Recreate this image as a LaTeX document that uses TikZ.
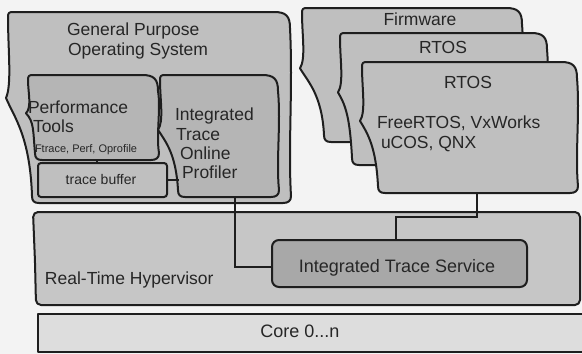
\documentclass[tikz,border=0pt]{standalone}
\usepackage{fontspec}
\setmainfont{Liberation Sans}
\definecolor{bg}{HTML}{F3F3F3}
\definecolor{ln}{HTML}{1E1E1E}
\definecolor{boxfill}{HTML}{BFBFBF}
\definecolor{innerfill}{HTML}{B5B5B5}
\definecolor{itsfill}{HTML}{A8A8A8}
\definecolor{hypfill}{HTML}{C6C6C6}
\definecolor{corefill}{HTML}{DDDDDD}
\tikzset{
  box/.style={draw=ln,line width=2pt,fill=boxfill,line join=round},
  conn/.style={draw=ln,line width=2pt},
  lbl/.style={inner sep=0pt,outer sep=0pt,text=black!85,font=\fontsize{17.5}{20}\selectfont},
}
\newcommand\docbox[6][]{%
\path[box,#1] ({#2+5},#3) -- ({#4-16},#3) .. controls ({#4-4},#3) and (#4,{#3+4}) .. (#4,{#3+16})
  .. controls ({#4+3},{#3+0.4*(#5-#3)}) and ({#4-2},{#3+0.7*(#5-#3)}) .. ({#4+1},{#5-7})
  .. controls ({#4+1},{#5-2}) and ({#4-2},#5) .. ({#4-7},#5)
  -- ({#2+#6+7},#5) .. controls ({#2+#6+2},#5) and ({#2+#6},{#5-2}) .. ({#2+#6},{#5-7})
  .. controls ({#2+#6-2},{#3+0.65*(#5-#3)}) and ({#2+6},{#3+0.55*(#5-#3)}) .. ({#2-2},{#3+0.45*(#5-#3)})
  .. controls ({#2+4},{#3+0.38*(#5-#3)}) and (#2,{#3+0.2*(#5-#3)}) .. (#2,{#3+5})
  .. controls (#2,{#3+1}) and ({#2+1},#3) .. cycle;}
\begin{document}
\begin{tikzpicture}[x=1pt,y=-1pt]
\fill[bg] (0,0) rectangle (582,354);
\useasboundingbox (0,0) rectangle (582,354);

% right stack
\docbox{302}{8}{522}{142}{22}
\docbox{340}{33}{547}{165}{12}
\docbox{362}{62}{577}{193}{16}
\node[lbl,anchor=base] (fw) at (420,25) {Firmware};
\node[lbl,anchor=base] (rtos2) at (443,53) {RTOS};
\node[lbl,anchor=base] (rtos3) at (468,88) {RTOS};
\node[lbl,anchor=base west] (rt1) at (377,128) {FreeRTOS, VxWorks};
\node[lbl,anchor=base west] (rt2) at (381,148) {uCOS, QNX};

% GPOS
\docbox{8}{12}{290}{203}{24}
\node[lbl,anchor=base west] (gp1) at (67,35) {General Purpose};
\node[lbl,anchor=base west] (gp2) at (68,55) {Operating System};
\docbox[fill=innerfill]{28}{75}{158}{160}{7}
\node[lbl,anchor=base west] (pt1) at (28,113) {Performance};
\node[lbl,anchor=base west] (pt2) at (33,132) {Tools};
\node[lbl,anchor=base west,font=\fontsize{11}{13}\selectfont] (pt3) at (35,152) {Ftrace, Perf, Oprofile};
\path[box,fill=boxfill,rounded corners=3pt] (38,163) rectangle (167,197);
\node[lbl,anchor=base,font=\fontsize{14}{16}\selectfont] (tb) at (101,184) {trace buffer};
\docbox[fill=innerfill]{160}{75}{278}{197}{18}
\node[lbl,anchor=base west] (it1) at (175,120) {Integrated};
\node[lbl,anchor=base west] (it2) at (176,140) {Trace};
\node[lbl,anchor=base west] (it3) at (180,159) {Online};
\node[lbl,anchor=base west] (it4) at (182,178) {Profiler};

% hypervisor
\path[box,fill=hypfill,rounded corners=5pt] (33,212) -- (580,212) -- (580,305) -- (36,305) -- (35,262) -- cycle;
\node[lbl,anchor=base west] (hyp) at (45,284) {Real-Time Hypervisor};

% core
\path[box,fill=corefill] (38,314) rectangle (590,352);
\node[lbl,anchor=base,font=\fontsize{18}{20}\selectfont] (core) at (300,337) {Core 0...n};

% connection points
\coordinate (itop-s) at (235,197);
\coordinate (its-w) at (272,267);
\coordinate (rtos-s) at (477,193);
\coordinate (bend) at (396,217);
\coordinate (its-n) at (396,240);
\coordinate (perf-s) at (97,160);
\coordinate (tb-n) at (97,163);
\coordinate (tb-e) at (167,180);
\coordinate (itop-w) at (179,180);

\draw[conn] (itop-s) |- (its-w);
\draw[conn] (rtos-s) |- (bend) -- (its-n);
\draw[conn] (perf-s) -- (tb-n);
\draw[conn] (tb-e) -- (itop-w);

% ITS
\path[box,fill=itsfill,rounded corners=7pt] (272,240) rectangle (527,287);
\node[lbl,anchor=base,font=\fontsize{18}{20}\selectfont] (its) at (397,272) {Integrated Trace Service};
\end{tikzpicture}
\end{document}
